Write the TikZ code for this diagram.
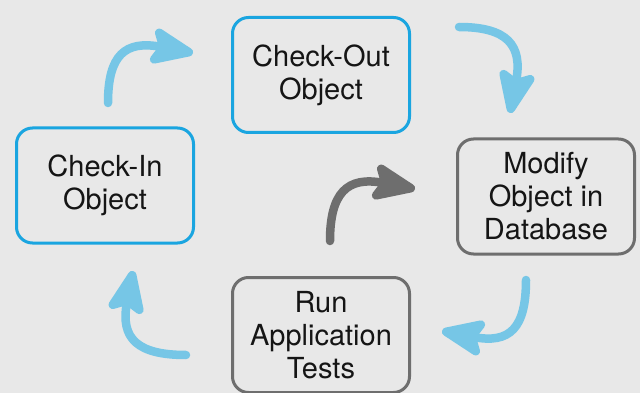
\documentclass[tikz,border=0pt]{standalone}
\usepackage{fontspec}
\setmainfont{TeX Gyre Heros}
\usetikzlibrary{arrows.meta}
\definecolor{bg}{HTML}{E8E8E8}
\definecolor{boxblue}{HTML}{1AA5E0}
\definecolor{arrblue}{HTML}{76C6E6}
\definecolor{boxgray}{HTML}{6E6E6E}
\definecolor{txt}{HTML}{151515}
\tikzset{
  stepbox/.style={draw, line width=3pt, rounded corners=16pt, fill=bg,
    minimum width=177pt, minimum height=115pt, align=center, text=txt,
    font=\fontsize{29pt}{33pt}\selectfont, inner sep=0pt},
  bluebox/.style={stepbox, draw=boxblue},
  graybox/.style={stepbox, draw=boxgray},
  flow/.style={line width=8.5pt, line cap=round,
    -{Stealth[length=52pt, width=42pt, inset=10pt, round=false]}},
  blueflow/.style={flow, draw=arrblue, arrblue},
  grayflow/.style={flow, draw=boxgray, boxgray},
}
\begin{document}
\begin{tikzpicture}[x=1pt,y=-1pt]
\fill[bg] (0,0) rectangle (640,393);
\useasboundingbox (0,0) rectangle (640,393);
\node[bluebox] (out) at (321,75) {Check-Out\\Object};
\node[bluebox] (in) at (105,185.5) {Check-In\\Object};
\node[graybox] (mod) at (546,196.5) {Modify\\Object in\\Database};
\node[graybox] (run) at (321,335) {Run\\Application\\Tests};
\coordinate (a1s) at (108,103); \coordinate (a1t) at (193,53);
\coordinate (a2s) at (459,27);  \coordinate (a2t) at (510,113);
\coordinate (a3s) at (330,241); \coordinate (a3t) at (415,189);
\coordinate (a4s) at (526,280); \coordinate (a4t) at (442,331);
\coordinate (a5s) at (186,355); \coordinate (a5t) at (133,271);
\draw[blueflow] (a1s) .. controls (108,55) and (125,40) .. (a1t);
\draw[blueflow] (a2s) .. controls (507,27) and (523,45) .. (a2t);
\draw[grayflow] (a3s) .. controls (330,193) and (347,176) .. (a3t);
\draw[blueflow] (a4s) .. controls (526,328) and (510,344) .. (a4t);
\draw[blueflow] (a5s) .. controls (138,355) and (120,339) .. (a5t);
\end{tikzpicture}
\end{document}
